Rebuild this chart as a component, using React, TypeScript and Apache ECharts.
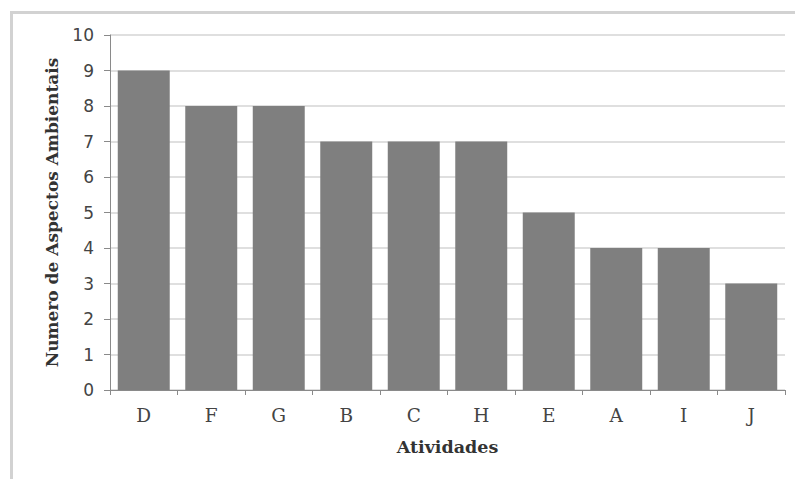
import React, { useEffect, useRef } from "react";
import * as echarts from "echarts";

const categories = ["D", "F", "G", "B", "C", "H", "E", "A", "I", "J"];
const values = [9, 8, 8, 7, 7, 7, 5, 4, 4, 3];
const yTitle = "Numero de Aspectos Ambientais";
const xTitle = "Atividades";

export default function App() {
  const ref = useRef<HTMLDivElement>(null);
  useEffect(() => {
    const chart = echarts.init(ref.current!, undefined, { renderer: "svg" });
    chart.setOption({
      animation: false,
      backgroundColor: "#ffffff",
      graphic: [
        { type: "rect", shape: { x: 10, y: 11, width: 785, height: 3 }, style: { fill: "#d2d2d2" } },
        { type: "rect", shape: { x: 10, y: 11, width: 3, height: 468 }, style: { fill: "#d2d2d2" } },
      ],
      grid: { left: 110, right: 10, top: 35, bottom: 89 },
      xAxis: {
        type: "category",
        data: categories,
        name: xTitle,
        nameLocation: "middle",
        nameGap: 48,
        nameTextStyle: { fontFamily: "DejaVu Serif", fontWeight: "bold", fontSize: 17.5, color: "#333" },
        axisLine: { lineStyle: { color: "#8a8a8a", width: 1 } },
        axisTick: { show: true, length: 5, lineStyle: { color: "#8a8a8a" } },
        axisLabel: { margin: 16, fontFamily: "DejaVu Serif", fontSize: 18.5, color: "#444" },
      },
      yAxis: {
        type: "value",
        min: 0,
        max: 10,
        interval: 1,
        name: yTitle,
        nameLocation: "middle",
        nameGap: 50,
        nameRotate: 90,
        nameTextStyle: { fontFamily: "DejaVu Serif", fontWeight: "bold", fontSize: 17, color: "#333" },
        axisLine: { show: true, lineStyle: { color: "#8a8a8a", width: 1 } },
        axisTick: { show: true, length: 6, lineStyle: { color: "#8a8a8a" } },
        axisLabel: { margin: 16, fontFamily: "DejaVu Sans", fontSize: 17, color: "#444" },
        splitLine: { lineStyle: { color: "#d4d4d4", width: 1.5 } },
      },
      series: [
        {
          type: "bar",
          data: values,
          barWidth: "77%",
          itemStyle: { color: "#7f7f7f" },
        },
      ],
    });
    return () => chart.dispose();
  }, []);
  return <div ref={ref} style={{ width: 795, height: 479, position: "absolute", left: 0, top: 0 }} />;
}
